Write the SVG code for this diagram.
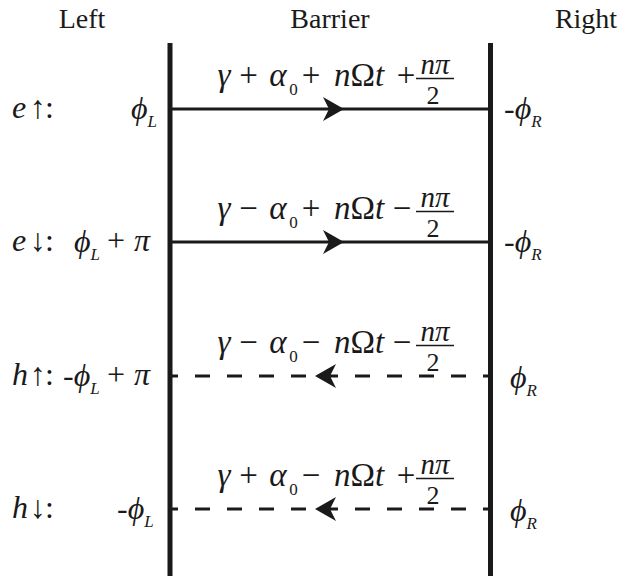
<svg xmlns="http://www.w3.org/2000/svg" width="637" height="581" viewBox="0 0 637 581">
<style>
text{font-family:"Liberation Serif","DejaVu Serif",serif;fill:#1a1a1a}
.h{font-size:28px;text-anchor:middle}
.m{font-size:32px}
.q{font-size:33px;text-anchor:middle}
.i{font-style:italic}
.s{font-size:17px;font-style:italic}
.z{font-size:17px}
.nu{font-size:29px;font-style:italic}
.d{font-size:26px}
.bar{stroke:#1a1a1a;stroke-width:5;fill:none}
.fb{stroke:#1a1a1a;stroke-width:1.6}
.sol{stroke:#1a1a1a;stroke-width:3;fill:none}
.dash{stroke:#1a1a1a;stroke-width:3;fill:none;stroke-dasharray:15 17;stroke-dashoffset:10}
</style>
<defs>
<marker id="ah" markerUnits="userSpaceOnUse" viewBox="-22 -13 24 26" refX="0" refY="0" markerWidth="24" markerHeight="26" orient="auto">
<path d="M0,0 L-21,-12 L-15,0 L-21,12 Z" fill="#1a1a1a"/>
</marker>
</defs>
<g id="headers">
<text class="h" x="82" y="28">Left</text>
<text class="h" x="330" y="28">Barrier</text>
<text class="h" x="586" y="28">Right</text>
</g>
<g id="barrier-left"><line class="bar" x1="170" y1="43" x2="170" y2="576"/></g>
<g id="barrier-right"><line class="bar" x1="490.5" y1="43" x2="490.5" y2="576"/></g>
<g id="connectors">
<path class="sol" d="M172,109 L344,109 L488,109" marker-mid="url(#ah)"/>
<path class="sol" d="M172,242 L344,242 L488,242" marker-mid="url(#ah)"/>
<path class="dash" d="M488,376 L315,376 L172,376" marker-mid="url(#ah)"/>
<path class="dash" d="M488,509 L315,509 L172,509" marker-mid="url(#ah)"/>
</g>
<g id="row-e-up" transform="translate(0,109)">
<text class="m" x="12" y="9"><tspan class="i">e</tspan><tspan x="30">↑</tspan><tspan x="45">:</tspan></text>
<text class="m" x="131" y="10"><tspan class="i">ϕ</tspan><tspan class="s" dy="8">L</tspan></text>
<text class="m" x="504" y="10">-<tspan class="i">ϕ</tspan><tspan class="s" dy="8">R</tspan></text>
<g id="eq1">
<text class="q" y="-23"><tspan class="i" x="224">γ</tspan><tspan x="248.5">+</tspan><tspan class="i" x="278">α</tspan><tspan class="z" x="293.5" y="-14">0</tspan><tspan x="311" y="-23">+</tspan><tspan x="359"><tspan class="i">n</tspan>Ω<tspan class="i">t</tspan></tspan><tspan x="406">+</tspan><tspan class="nu" x="435" y="-35">nπ</tspan><tspan class="d" x="433" y="-5">2</tspan></text>
<line class="fb" x1="416" y1="-30.5" x2="454" y2="-30.5"/>
</g>
</g>
<g id="row-e-down" transform="translate(0,242)">
<text class="m" x="12" y="9"><tspan class="i">e</tspan><tspan x="30">↓</tspan><tspan x="45">:</tspan></text>
<text class="m" x="74" y="10"><tspan class="i">ϕ</tspan><tspan class="s" dy="8">L</tspan><tspan x="107" y="9">+</tspan><tspan class="i" x="134">π</tspan></text>
<text class="m" x="504" y="10">-<tspan class="i">ϕ</tspan><tspan class="s" dy="8">R</tspan></text>
<g id="eq2">
<text class="q" y="-23"><tspan class="i" x="224">γ</tspan><tspan x="248.5">−</tspan><tspan class="i" x="278">α</tspan><tspan class="z" x="293.5" y="-14">0</tspan><tspan x="311" y="-23">+</tspan><tspan x="359"><tspan class="i">n</tspan>Ω<tspan class="i">t</tspan></tspan><tspan x="402">−</tspan><tspan class="nu" x="435" y="-35">nπ</tspan><tspan class="d" x="433" y="-5">2</tspan></text>
<line class="fb" x1="416" y1="-30.5" x2="454" y2="-30.5"/>
</g>
</g>
<g id="row-h-up" transform="translate(0,376)">
<text class="m" x="12" y="9"><tspan class="i">h</tspan><tspan x="30">↑</tspan><tspan x="45">:</tspan></text>
<text class="m" x="63" y="10">-<tspan class="i">ϕ</tspan><tspan class="s" dy="8">L</tspan><tspan x="107" y="9">+</tspan><tspan class="i" x="134">π</tspan></text>
<text class="m" x="510" y="12"><tspan class="i">ϕ</tspan><tspan class="s" dy="8">R</tspan></text>
<g id="eq3">
<text class="q" y="-23"><tspan class="i" x="224">γ</tspan><tspan x="248.5">−</tspan><tspan class="i" x="278">α</tspan><tspan class="z" x="293.5" y="-14">0</tspan><tspan x="311" y="-23">−</tspan><tspan x="359"><tspan class="i">n</tspan>Ω<tspan class="i">t</tspan></tspan><tspan x="402">−</tspan><tspan class="nu" x="435" y="-35">nπ</tspan><tspan class="d" x="433" y="-5">2</tspan></text>
<line class="fb" x1="416" y1="-30.5" x2="454" y2="-30.5"/>
</g>
</g>
<g id="row-h-down" transform="translate(0,509)">
<text class="m" x="12" y="9"><tspan class="i">h</tspan><tspan x="30">↓</tspan><tspan x="45">:</tspan></text>
<text class="m" x="117" y="10">-<tspan class="i">ϕ</tspan><tspan class="s" dy="8">L</tspan></text>
<text class="m" x="510" y="12"><tspan class="i">ϕ</tspan><tspan class="s" dy="8">R</tspan></text>
<g id="eq4">
<text class="q" y="-23"><tspan class="i" x="224">γ</tspan><tspan x="248.5">+</tspan><tspan class="i" x="278">α</tspan><tspan class="z" x="293.5" y="-14">0</tspan><tspan x="311" y="-23">−</tspan><tspan x="359"><tspan class="i">n</tspan>Ω<tspan class="i">t</tspan></tspan><tspan x="406">+</tspan><tspan class="nu" x="435" y="-35">nπ</tspan><tspan class="d" x="433" y="-5">2</tspan></text>
<line class="fb" x1="416" y1="-30.5" x2="454" y2="-30.5"/>
</g>
</g>
</svg>
